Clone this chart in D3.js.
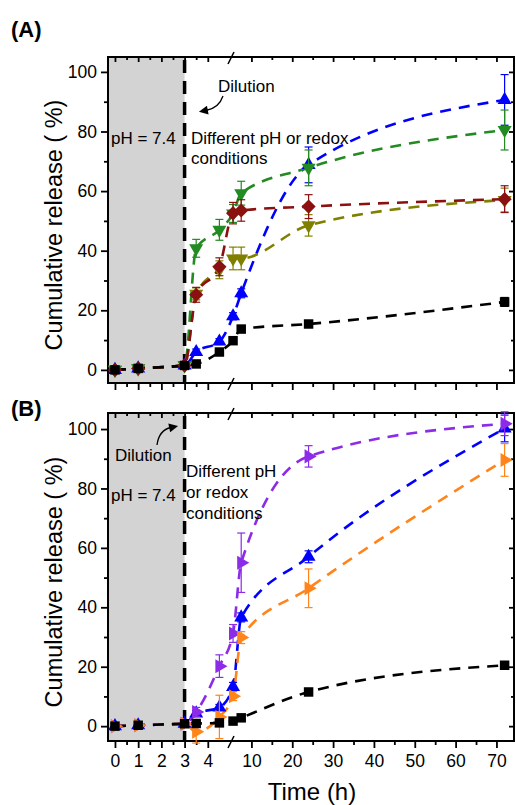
<!DOCTYPE html>
<html>
<head>
<meta charset="utf-8">
<script src="https://cdn.jsdelivr.net/npm/d3@7"></script>
<style>
  html, body { margin: 0; padding: 0; background: #fff; }
  text { font-family: "Liberation Sans", Arial, sans-serif; }
</style>
</head>
<body>
<div id="chart"></div>
<script>
// sampling times (h)
const times = [0, 1, 3, 3.5, 4.5, 5.5, 7.5, 24, 72];

// panel A
const aBlack = [0, 0.5, 1.5, 2, 6, 9.8, 13.7, 15.4, 22.8];
const aBlackErr = [0.6, 0.6, 0.6, 0.6, 0.8, 0.8, 1, 1, 1.5];
const aBlue = [0, 0.5, 1.5, 6, 9.5, 18, 25.7, 68.8, 90.6];
const aBlueErr = [0.6, 0.6, 0.6, 1, 1, 1.2, 1.5, 6, 8.5];
const aGreen = [0, 0.5, 1.5, 40.8, 47, 52.5, 59.3, 67.8, 80.5];
const aGreenErr = [0.6, 0.6, 0.6, 3, 3.5, 3, 4, 6, 6.7];
const aRed = [0, 0.5, 1.5, 25.2, 34.6, 52.6, 53.5, 54.8, 57.3];
const aRedErr = [0.6, 0.6, 0.6, 2.5, 3, 3.6, 3.6, 4, 4.5];
const aOlive = [0, 0.5, 1.5, 25.5, 33.6, 37.4, 37.4, 48.5, 57];
const aOliveErr = [0.6, 0.6, 0.6, 2, 3, 3.8, 3.8, 3.6, 4];

// panel B
const bBlack = [0, 0.3, 0.8, 0.9, 1.1, 1.7, 2.8, 11.5, 20.5];
const bBlackErr = [0.6, 0.6, 0.6, 0.6, 0.6, 0.6, 0.8, 1, 1];
const bBlue = [0, 0.3, 0.8, 4.3, 6.3, 13.2, 36.6, 57, 100.2];
const bBlueErr = [0.6, 0.6, 0.6, 1, 1, 1.5, 1.5, 2, 4.5];
const bPurple = [0, 0.3, 0.8, 4.8, 20.2, 31.2, 55, 90.8, 101.8];
const bPurpleErr = [0.6, 0.6, 0.6, 1.5, 3.8, 3, 10, 3.6, 4];
const bOrange = [0, 0.3, 0.8, -1.9, 3.1, 10.1, 29.8, 46.4, 89.6];
const bOrangeErr = [0.6, 0.6, 0.6, 3.8, 7.3, 1.5, 2, 6.5, 5.5];

// ticks
const yMajor = [0, 20, 40, 60, 80, 100];
const yMinor = [10, 30, 50, 70, 90];
const xMajorLeft = [0, 1, 2, 3, 4];
const xMinorLeft = [0.5, 1.5, 2.5, 3.5];
const xMajorRight = [10, 20, 30, 40, 50, 60, 70];
const xMinorRight = [15, 25, 35, 45, 55, 65];

const width = 516, height = 805;
const left = 108, right = 514, breakX = 231;

const svg = d3.select("#chart").append("svg")
    .attr("width", width)
    .attr("height", height);

const defs = svg.append("defs");
defs.append("marker")
    .attr("id", "arrow")
    .attr("viewBox", "0 0 10 10")
    .attr("refX", 2).attr("refY", 5)
    .attr("markerWidth", 10).attr("markerHeight", 9)
    .attr("markerUnits", "userSpaceOnUse")
    .attr("orient", "auto")
    .append("path")
    .attr("d", "M0,0 L10,5 L0,10 Z")
    .attr("fill", "#000");

// broken time axis: two linear pieces
const xLeft = d3.scaleLinear().domain([-0.3, 5]).range([left, breakX]);
const xRight = d3.scaleLinear().domain([5, 74.3]).range([breakX, right]);
const x = t => t <= 5 ? xLeft(t) : xRight(t);

function series(vals, errs, color, shape) {
    return { pts: times.map((t, i) => ({ t: t, v: vals[i], e: errs[i] })), color, shape };
}

function symbolPath(shape) {
    if (shape === "square") return { d: d3.symbol(d3.symbolSquare, 90)(), rot: 0 };
    if (shape === "diamond") return { d: d3.symbol(d3.symbolSquare, 100)(), rot: 45 };
    const d = d3.symbol(d3.symbolTriangle, 85)();
    const rot = { up: 0, down: 180, right: 90 }[shape];
    return { d, rot };
}

function drawPanel(top, bottom, yDomain, list, showLabels) {
    const y = d3.scaleLinear().domain(yDomain).range([bottom, top]);
    const g = svg.append("g");

    // gray pH 7.4 zone
    g.append("rect")
        .attr("x", left).attr("y", top)
        .attr("width", x(3) - left).attr("height", bottom - top)
        .attr("fill", "#d3d3d3");

    // dilution line
    g.append("line")
        .attr("x1", x(3)).attr("x2", x(3))
        .attr("y1", top + 3).attr("y2", bottom)
        .attr("stroke", "#000").attr("stroke-width", 3.5)
        .attr("stroke-dasharray", "13,8");

    // left y axis
    const yl = g.append("g").attr("transform", `translate(${left},0)`);
    yl.call(d3.axisLeft(y).tickValues(yMajor).tickSize(7).tickPadding(4));
    yl.append("g").call(d3.axisLeft(y).tickValues(yMinor).tickSize(4).tickFormat(""));
    // right y axis (inward)
    const yr = g.append("g").attr("transform", `translate(${right},0)`);
    yr.call(d3.axisLeft(y).tickValues(yMajor).tickSize(5).tickFormat(""));
    yr.append("g").call(d3.axisLeft(y).tickValues(yMinor).tickSize(3).tickFormat(""));

    // bottom x axis
    const fmt = showLabels ? d3.format("d") : () => "";
    const xb = g.append("g").attr("transform", `translate(0,${bottom})`);
    xb.append("g").call(d3.axisBottom(xLeft).tickValues(xMajorLeft).tickSize(7).tickPadding(7).tickFormat(fmt));
    xb.append("g").call(d3.axisBottom(xLeft).tickValues(xMinorLeft).tickSize(4).tickFormat(""));
    xb.append("g").call(d3.axisBottom(xRight).tickValues(xMajorRight).tickSize(7).tickPadding(7).tickFormat(fmt));
    xb.append("g").call(d3.axisBottom(xRight).tickValues(xMinorRight).tickSize(4).tickFormat(""));
    // top x axis (inward)
    const xt = g.append("g").attr("transform", `translate(0,${top})`);
    xt.append("g").call(d3.axisBottom(xLeft).tickValues(xMajorLeft).tickSize(5).tickFormat(""));
    xt.append("g").call(d3.axisBottom(xLeft).tickValues(xMinorLeft).tickSize(3).tickFormat(""));
    xt.append("g").call(d3.axisBottom(xRight).tickValues(xMajorRight).tickSize(5).tickFormat(""));
    xt.append("g").call(d3.axisBottom(xRight).tickValues(xMinorRight).tickSize(3).tickFormat(""));

    g.selectAll(".domain").remove();
    g.selectAll(".tick line").attr("stroke", "#000").attr("stroke-width", 1.8);
    g.selectAll(".tick text")
        .attr("font-size", 17.5)
        .attr("fill", "#000")
        .attr("font-family", "Liberation Sans, Arial, sans-serif");

    // frame
    g.append("rect")
        .attr("x", left).attr("y", top)
        .attr("width", right - left).attr("height", bottom - top)
        .attr("fill", "none").attr("stroke", "#000").attr("stroke-width", 2);

    // axis break marks
    [top, bottom].forEach(yy => {
        g.append("line")
            .attr("x1", breakX - 3).attr("y1", yy + 7)
            .attr("x2", breakX + 3).attr("y2", yy - 5)
            .attr("stroke", "#000").attr("stroke-width", 1.6);
    });

    const line = d3.line()
        .x(d => x(d.t))
        .y(d => y(d.v))
        .curve(d3.curveMonotoneX);

    list.forEach(s => {
        g.append("path")
            .datum(s.pts)
            .attr("d", line)
            .attr("fill", "none")
            .attr("stroke", s.color)
            .attr("stroke-width", 2.6)
            .attr("stroke-dasharray", "11,8");
    });

    list.forEach(s => {
        const eb = g.append("g").attr("stroke", s.color).attr("stroke-width", 1.2);
        s.pts.forEach(d => {
            const cx = x(d.t), y1 = y(d.v + d.e), y2 = y(d.v - d.e);
            eb.append("line").attr("x1", cx).attr("x2", cx).attr("y1", y1).attr("y2", y2);
            eb.append("line").attr("x1", cx - 4).attr("x2", cx + 4).attr("y1", y1).attr("y2", y1);
            eb.append("line").attr("x1", cx - 4).attr("x2", cx + 4).attr("y1", y2).attr("y2", y2);
        });
        const sym = symbolPath(s.shape);
        g.append("g").selectAll("path")
            .data(s.pts)
            .enter().append("path")
            .attr("d", sym.d)
            .attr("transform", d => `translate(${x(d.t)},${y(d.v)}) rotate(${sym.rot})`)
            .attr("fill", s.color);
    });

    // y title
    svg.append("text")
        .attr("transform", `translate(62,${(top + bottom) / 2 + 5}) rotate(-90)`)
        .attr("text-anchor", "middle")
        .attr("font-size", 23.5)
        .text("Cumulative release ( %)");

    return y;
}

// panel A
drawPanel(57, 383, [-4.4, 105], [
    series(aBlue, aBlueErr, "#0000ff", "up"),
    series(aOlive, aOliveErr, "#808000", "down"),
    series(aGreen, aGreenErr, "#228b22", "down"),
    series(aRed, aRedErr, "#8b1010", "diamond"),
    series(aBlack, aBlackErr, "#000000", "square")
], false);

// panel B
drawPanel(413, 741, [-5, 105.4], [
    series(bBlue, bBlueErr, "#0000ff", "up"),
    series(bPurple, bPurpleErr, "#8c2be8", "right"),
    series(bOrange, bOrangeErr, "#ff8419", "right"),
    series(bBlack, bBlackErr, "#000000", "square")
], true);

// panel letters
svg.append("text").attr("x", 11).attr("y", 37)
    .attr("font-size", 22).attr("font-weight", "bold").text("(A)");
svg.append("text").attr("x", 11).attr("y", 416)
    .attr("font-size", 22).attr("font-weight", "bold").text("(B)");

// x title
svg.append("text").attr("x", 312).attr("y", 800)
    .attr("text-anchor", "middle").attr("font-size", 24).text("Time (h)");

// annotations
const ann = svg.append("g").attr("font-size", 17).attr("fill", "#000");
ann.append("text").attr("x", 218).attr("y", 92).text("Dilution");
ann.append("text").attr("x", 111).attr("y", 144).text("pH = 7.4");
ann.append("text").attr("x", 191).attr("y", 144).text("Different pH or redox");
ann.append("text").attr("x", 191).attr("y", 164).text("conditions");

ann.append("text").attr("x", 115).attr("y", 461).text("Dilution");
ann.append("text").attr("x", 111).attr("y", 501).text("pH = 7.4");
ann.append("text").attr("x", 186).attr("y", 477).text("Different pH");
ann.append("text").attr("x", 186).attr("y", 498).text("or redox");
ann.append("text").attr("x", 186).attr("y", 519).text("conditions");

svg.append("path")
    .attr("d", "M223,96 Q219,108 206,110.5")
    .attr("fill", "none").attr("stroke", "#000").attr("stroke-width", 1.3)
    .attr("marker-end", "url(#arrow)");
svg.append("path")
    .attr("d", "M157,445 Q159,430 171,427.5")
    .attr("fill", "none").attr("stroke", "#000").attr("stroke-width", 1.3)
    .attr("marker-end", "url(#arrow)");
</script>
</body>
</html>
